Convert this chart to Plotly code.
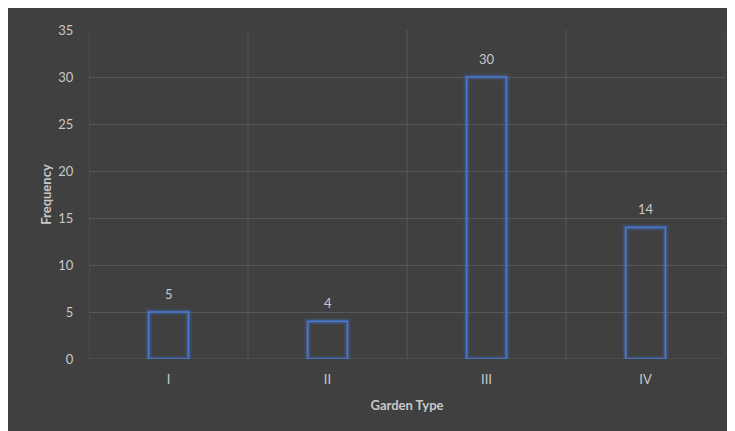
import plotly.graph_objects as go

categories = ["I", "II", "III", "IV"]
frequency = [5, 4, 30, 14]

W, H = 727, 423
ml, mr, mt, mb = 81, 10, 22, 72

fig = go.Figure()
for lw, alpha in [(7, 0.15), (4, 0.3)]:
    fig.add_trace(go.Bar(
        x=categories, y=frequency, width=0.25,
        marker=dict(color="rgba(0,0,0,0)", line=dict(color=f"rgba(68,114,196,{alpha})", width=lw)),
        hoverinfo="skip", showlegend=False,
    ))
fig.add_trace(go.Bar(
    x=categories, y=frequency, width=0.25,
    marker=dict(color="rgba(0,0,0,0)", line=dict(color="#4a78cc", width=1.6)),
    showlegend=False,
))
for c, v in zip(categories, frequency):
    fig.add_annotation(x=c, y=v, text=str(v), showarrow=False, yanchor="middle",
                       yshift=18, font=dict(color="#c8c8c8", size=13, family="Lato"))

grid = "#575757"
fig.update_layout(
    width=W, height=H, barmode="overlay",
    margin=dict(l=ml, r=mr, t=mt, b=mb),
    paper_bgcolor="#404040", plot_bgcolor="#404040",
    font=dict(family="Lato", color="#c8c8c8", size=13),
    xaxis=dict(
        range=[-0.5, 3.5],
        showgrid=False, zeroline=False, showline=False,
        ticks="outside", ticklen=8, tickcolor="rgba(0,0,0,0)",
        title=dict(text="<b>Garden Type</b>", font=dict(size=13, color="#c8c8c8"), standoff=15),
    ),
    yaxis=dict(
        range=[0, 35], dtick=5, showgrid=True, gridcolor=grid, gridwidth=1,
        zeroline=False, showline=False,
        ticks="outside", ticklen=12, tickcolor="rgba(0,0,0,0)",
        title=dict(text="<b>Frequency</b>", font=dict(size=13, color="#c8c8c8"), standoff=3),
    ),
)

# vertical category separators
for xb in [-0.5, 0.5, 1.5, 2.5, 3.5]:
    fig.add_shape(type="line", xref="x", yref="y", x0=xb, x1=xb, y0=0, y1=35,
                  line=dict(color=grid, width=1), layer="below")
fig.add_shape(type="line", xref="paper", yref="y", x0=0, x1=1, y0=0, y1=0,
              line=dict(color=grid, width=1), layer="below")

# the original chart ran past the right and bottom edges of the page
post = ("var d=document.getElementById('{plot_id}');"
        "d.style.boxShadow='20px 0 0 0 #404040, 0 20px 0 0 #404040, 20px 20px 0 0 #404040';")
fig.write_html("out.html", post_script=post)
